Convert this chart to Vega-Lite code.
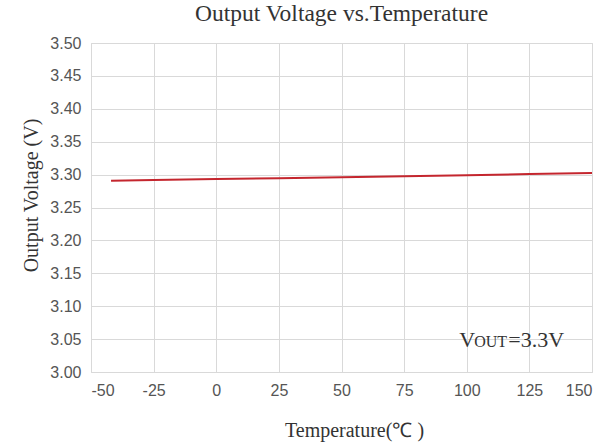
{
  "$schema": "https://vega.github.io/schema/vega-lite/v6.json",
  "width": 501,
  "height": 329,
  "autosize": {"type": "none"},
  "padding": {"left": 91, "top": 43, "right": 21, "bottom": 76},
  "background": "white",
  "title": {
    "text": "Output Voltage vs.Temperature",
    "font": "Liberation Serif",
    "fontSize": 23.5,
    "fontWeight": "normal",
    "color": "#333333",
    "anchor": "middle",
    "offset": 10
  },
  "config": {
    "view": {"stroke": "#d9d9d9", "strokeWidth": 1},
    "axis": {
      "gridColor": "#d9d9d9",
      "gridWidth": 1,
      "domain": false,
      "ticks": false,
      "labelFont": "Liberation Sans",
      "labelFontSize": 16,
      "labelColor": "#555555",
      "labelOverlap": false,
      "titleFont": "Liberation Serif",
      "titleFontSize": 20,
      "titleFontWeight": "normal",
      "titleColor": "#333333"
    }
  },
  "encoding": {
    "x": {
      "field": "t",
      "type": "quantitative",
      "scale": {"domain": [-50, 150], "nice": false},
      "axis": {
        "values": [-50, -25, 0, 25, 50, 75, 100, 125, 150],
        "labelExpr": "'' + datum.value",
        "title": "Temperature(℃ )",
        "labelPadding": 10,
        "titlePadding": 22,
        "titleX": 263
      }
    },
    "y": {
      "field": "v",
      "type": "quantitative",
      "scale": {"domain": [3.0, 3.5], "nice": false, "zero": false},
      "axis": {
        "values": [3.0, 3.05, 3.1, 3.15, 3.2, 3.25, 3.3, 3.35, 3.4, 3.45, 3.5],
        "labelExpr": "format(datum.value, '.2f')",
        "title": "Output Voltage (V)",
        "labelPadding": 10,
        "titlePadding": 8,
        "titleY": 152
      }
    }
  },
  "layer": [
    {
      "data": {
        "values": [
          {"t": -42, "v": 3.2907},
          {"t": -25, "v": 3.2918},
          {"t": 0, "v": 3.2932},
          {"t": 25, "v": 3.2946},
          {"t": 50, "v": 3.2960},
          {"t": 75, "v": 3.2975},
          {"t": 100, "v": 3.2990},
          {"t": 125, "v": 3.3008},
          {"t": 150, "v": 3.3026}
        ]
      },
      "mark": {"type": "line", "color": "#c4262e", "strokeWidth": 2}
    },
    {
      "data": {"values": [{"t": 97, "v": 3.0486}]},
      "layer": [
        {
          "mark": {"type": "text", "text": "V", "align": "left", "baseline": "middle", "font": "Liberation Serif", "fontSize": 22, "color": "#333333"}
        },
        {
          "mark": {"type": "text", "text": "OUT", "align": "left", "baseline": "middle", "font": "Liberation Serif", "fontSize": 16, "dx": 15, "dy": 2, "color": "#333333"}
        },
        {
          "mark": {"type": "text", "text": "=3.3V", "align": "left", "baseline": "middle", "font": "Liberation Serif", "fontSize": 22, "dx": 49, "color": "#333333"}
        }
      ]
    }
  ]
}
